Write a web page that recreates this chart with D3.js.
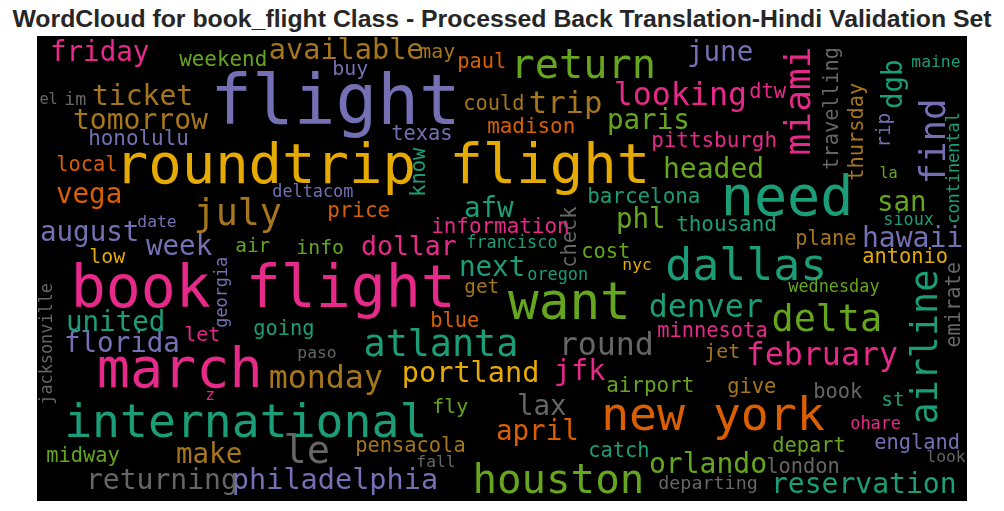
<!DOCTYPE html>
<html>
<head>
<meta charset="utf-8">
<script src="https://cdn.jsdelivr.net/npm/d3@7"></script>
<style>
html, body { margin: 0; padding: 0; background: #fff; overflow: hidden; }
</style>
</head>
<body>
<div id="chart"></div>
<script>
var w = 1004;
var h = 511;
var titleText = "WordCloud for book_flight Class - Processed Back Translation-Hindi Validation Set";

// one entry per word, same order in every list (ten per line)
var words = [
	"flight", "roundtrip flight", "book flight", "march", "international", "need", "dallas", "want", "new york", "houston",
	"return", "looking", "trip", "le", "atlanta", "round", "delta", "denver", "february", "airline",
	"monday", "portland", "jfk", "lax", "april", "orlando", "reservation", "philadelphia", "returning", "make",
	"florida", "united", "next", "july", "august", "week", "dollar", "available", "ticket", "tomorrow",
	"friday", "vega", "afw", "phl", "san", "find", "miami", "headed", "paris", "hawaii",
	"june", "dgb", "pittsburgh", "barcelona", "thousand", "information", "francisco", "check", "cost", "madison",
	"could", "paul", "may", "buy", "weekend", "texas", "honolulu", "local", "know", "deltacom",
	"price", "date", "air", "info", "low", "el", "im", "dtw", "maine", "travelling",
	"thursday", "rip", "la", "continental", "sioux", "plane", "antonio", "nyc", "oregon", "wednesday",
	"emirate", "get", "blue", "georgia", "let", "going", "paso", "minnesota", "jet", "airport",
	"give", "book", "st", "ohare", "england", "look", "depart", "catch", "london", "departing",
	"fly", "pensacola", "fall", "midway", "z", "jacksonville"
];

// word weight as read from the letter widths
var weights = [
	68, 54.5, 57, 54, 45.5, 54, 44, 50, 45.5, 40,
	39.5, 31, 30, 38, 36, 31, 36, 31, 31, 36,
	31, 28, 28, 27, 27, 27.5, 27.5, 28, 27.5, 27,
	27, 27, 27, 36, 27, 27, 26, 28, 27.5, 27.5,
	27, 27, 27, 27, 27, 35, 35.5, 27.5, 27, 27.5,
	27, 27, 20.5, 20.5, 20.5, 20.5, 16.5, 20, 20, 20.5,
	20, 20, 19.5, 19.5, 20.5, 20, 20.5, 20, 20, 16.5,
	20.5, 16, 19, 19.5, 19.5, 15, 18, 20, 16, 20,
	20, 19, 15, 16.5, 16.5, 20, 20, 16, 16.5, 16.5,
	20, 19, 20, 16.5, 19.5, 20, 16, 20, 19.5, 20.5,
	20, 20, 19, 16.5, 20, 16, 20, 20, 20, 18,
	19.5, 20, 16, 20, 16, 16.5
];

// index into the Dark2 colour scheme
var groups = [
	2, 5, 3, 3, 0, 0, 0, 4, 1, 4,
	4, 3, 6, 7, 0, 7, 4, 0, 3, 0,
	6, 5, 3, 7, 1, 4, 0, 2, 7, 6,
	2, 0, 0, 6, 2, 2, 3, 6, 6, 6,
	3, 1, 0, 4, 4, 2, 3, 4, 4, 2,
	2, 0, 3, 0, 0, 3, 0, 7, 4, 1,
	6, 1, 6, 2, 4, 2, 2, 1, 0, 2,
	1, 2, 4, 4, 5, 7, 7, 3, 0, 7,
	6, 2, 4, 0, 0, 6, 5, 5, 0, 4,
	7, 6, 1, 2, 3, 0, 7, 3, 6, 4,
	6, 7, 0, 3, 2, 7, 4, 0, 7, 7,
	4, 6, 7, 4, 3, 7
];

var verticalWords = ["airline", "find", "miami", "dgb", "check", "know", "travelling", "thursday", "rip",
	"continental", "emirate", "georgia", "jacksonville"];

// where each word sits in the cloud
var cloudX = [
	176, 80, 36, 62, 29, 686, 630, 473, 566, 437,
	475, 578, 493, 248, 328, 523, 736, 613, 710, 900,
	233, 366, 518, 481, 460, 613, 735, 196, 50, 140,
	28, 30, 423, 158, 4, 110, 325, 233, 56, 37,
	14, 20, 428, 580, 841, 908, 773, 627, 571, 826,
	651, 865, 615, 551, 640, 395, 430, 539, 545, 451,
	427, 421, 383, 296, 143, 355, 52, 20, 388, 236,
	291, 101, 199, 260, 53, 3, 28, 713, 875, 801,
	826, 853, 843, 922, 847, 759, 826, 586, 491, 752,
	923, 428, 394, 190, 148, 217, 261, 621, 668, 570,
	691, 777, 845, 814, 838, 890, 736, 552, 730, 622,
	396, 319, 380, 10, 169, 15
];
var cloudY = [
	88, 147, 271, 351, 401, 179, 244, 283, 394, 457,
	42, 69, 77, 427, 320, 319, 295, 281, 329, 387,
	352, 346, 344, 379, 404, 437, 457, 453, 453, 427,
	316, 295, 240, 189, 205, 219, 219, 23, 69, 93,
	25, 167, 181, 192, 175, 147, 118, 142, 93, 211,
	25, 72, 111, 167, 195, 197, 212, 231, 222, 97,
	74, 32, 22, 39, 30, 104, 109, 135, 160, 161,
	181, 191, 216, 218, 227, 68, 69, 62, 31, 133,
	144, 111, 142, 187, 189, 209, 227, 234, 244, 256,
	311, 257, 291, 291, 305, 299, 322, 301, 322, 356,
	357, 362, 370, 393, 413, 426, 416, 421, 437, 453,
	377, 416, 431, 426, 364, 368
];

var plot = { left: 37, top: 36, width: 930, height: 465 };

var xScale = d3.scaleLinear().domain([0, 930]).range([plot.left, plot.left + plot.width]);
var yScale = d3.scaleLinear().domain([0, 465]).range([plot.top, plot.top + plot.height]);
var sizeScale = d3.scaleLinear().domain([0, 100]).range([0, 102]);
var colorScale = d3.scaleOrdinal().domain(d3.range(8)).range(d3.schemeDark2);

var svg = d3.select("#chart")
	.append("svg")
	.attr("width", w)
	.attr("height", h)
	.style("display", "block");

svg.append("text")
	.attr("x", 502)
	.attr("y", 27)
	.style("text-anchor", "middle")
	.style("font-family", "'Liberation Sans', Arial, sans-serif")
	.style("font-weight", "bold")
	.style("font-size", "24.8px")
	.style("fill", "#262626")
	.text(titleText);

svg.append("rect")
	.attr("x", plot.left)
	.attr("y", plot.top)
	.attr("width", plot.width)
	.attr("height", plot.height)
	.attr("fill", "#000");

var cloud = svg.append("g")
	.style("filter", "blur(0.35px)");

cloud.selectAll("text")
	.data(d3.range(words.length))
	.enter()
	.append("text")
	.attr("transform", function(i) {
		var t = "translate(" + xScale(cloudX[i]) + "," + yScale(cloudY[i]) + ")";
		return verticalWords.indexOf(words[i]) >= 0 ? t + " rotate(-90)" : t;
	})
	.attr("dx", "-0.04em")
	.style("font-family", "'DejaVu Sans Mono', monospace")
	.style("font-size", function(i) {
		return sizeScale(weights[i]) + "px";
	})
	.style("fill", function(i) {
		return colorScale(groups[i]);
	})
	.text(function(i) {
		return words[i];
	});
</script>
</body>
</html>
